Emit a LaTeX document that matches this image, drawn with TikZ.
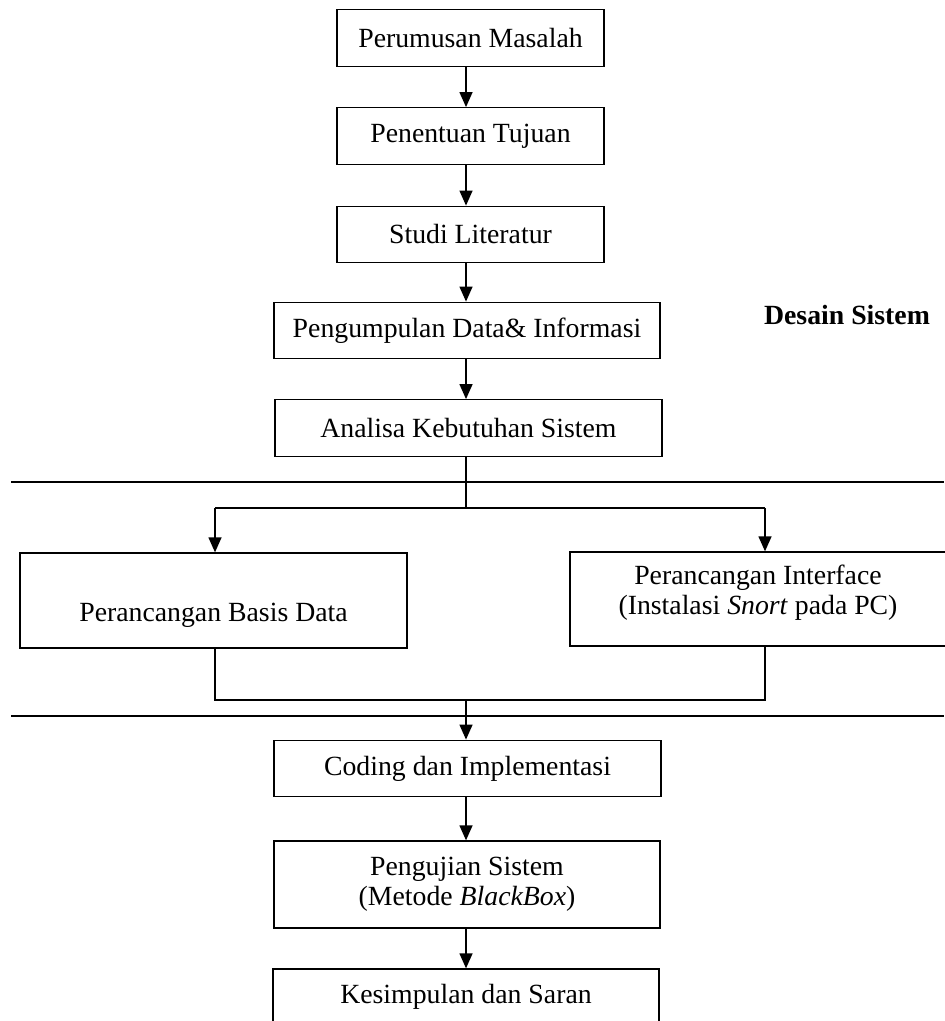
\documentclass[tikz,border=0pt]{standalone}
\usepackage{fontspec}
\setmainfont{Liberation Serif}
\usepackage{tikz}
\usetikzlibrary{arrows.meta}

\begin{document}
\begin{tikzpicture}[
	kotak/.style={draw, line width=0.75pt, inner sep=0pt, align=center, minimum width=7.74cm, minimum height=1.13cm, font=\fontsize{15.8}{17}\selectfont},
	teks/.style={inner sep=0pt, align=center, font=\fontsize{15.8}{17}\selectfont},
	panah/.style={line width=0.75pt, -{Triangle[length=0.3cm, width=0.26cm]}},
	garis/.style={line width=0.85pt}]
	\useasboundingbox (0,0) rectangle (18.88,-20.42);
	\coordinate (sumbu) at (9.32,0);
	
	\node[kotak, minimum width=5.34cm] (pm) at (9.41,-0.76) {Perumusan Masalah};
	\node[kotak, minimum width=5.34cm] (pt) at (9.41,-2.72) {Penentuan Tujuan};
	\node[kotak, minimum width=5.34cm] (sl) at (9.41,-4.69) {Studi Literatur};
	\node[kotak, minimum width=7.72cm] (pd) at (9.34,-6.61) {Pengumpulan Data\& Informasi};
	\node[kotak] (ak) at (9.37,-8.56) {Analisa Kebutuhan Sistem};
	\node[teks, font=\fontsize{15.8}{17}\selectfont\bfseries] (ds) at (16.94,-6.30) {Desain Sistem};
	
	\draw[panah] (pm.south -| sumbu) -- (pt.north -| sumbu);
	\draw[panah] (pt.south -| sumbu) -- (sl.north -| sumbu);
	\draw[panah] (sl.south -| sumbu) -- (pd.north -| sumbu);
	\draw[panah] (pd.south -| sumbu) -- (ak.north -| sumbu);
	
	\draw[garis] (0.22,-9.64) -- (18.88,-9.64);
	
	\node[kotak, minimum height=1.9cm] (bd) at (4.27,-12.01) {};
	\node[teks] (bdt) at (4.27,-12.3) {Perancangan Basis Data};
	\node[kotak, minimum width=7.6cm, minimum height=1.88cm] (pi) at (15.2,-11.98) {};
	\node[teks] (pit) at (15.16,-11.86) {Perancangan Interface\\(Instalasi \textit{Snort} pada PC)};
	
	\coordinate (cab) at (9.32,-10.16);
	\coordinate (kiri) at (4.30,-10.16);
	\coordinate (kanan) at (15.30,-10.16);
	\draw[line width=0.75pt] (ak.south -| sumbu) -- (cab);
	\draw[line width=0.75pt] (kiri) -- (kanan);
	\draw[panah] (kiri) -- (bd.north -| kiri);
	\draw[panah] (kanan) -- (pi.north -| kanan);
	
	\coordinate (gab) at (9.32,-14.0);
	\draw[line width=0.75pt] (bd.south -| kiri) |- (gab) -| (pi.south -| kanan);
	
	\draw[garis] (0.22,-14.32) -- (18.88,-14.32);
	
	\node[kotak] (ci) at (9.35,-15.37) {Coding dan Implementasi};
	\node[kotak, minimum width=7.72cm, minimum height=1.74cm] (ps) at (9.34,-17.69) {Pengujian Sistem\\(Metode \textit{BlackBox})};
	\node[kotak, minimum width=7.72cm, minimum height=1.1cm] (ks) at (9.32,-19.93) {Kesimpulan dan Saran};
	
	\draw[panah] (gab) -- (ci.north -| sumbu);
	\draw[panah] (ci.south -| sumbu) -- (ps.north -| sumbu);
	\draw[panah] (ps.south -| sumbu) -- (ks.north -| sumbu);
\end{tikzpicture}
\end{document}
